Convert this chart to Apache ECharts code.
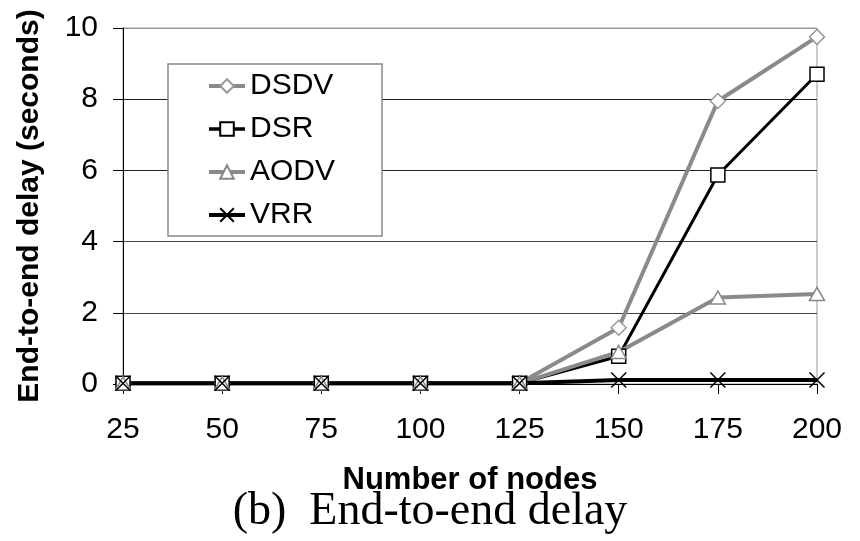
<!DOCTYPE html>
<html>
<head>
<meta charset="utf-8">
<script src="https://cdn.jsdelivr.net/npm/echarts@6/dist/echarts.min.js"></script>
<style>
  html, body { margin: 0; padding: 0; background: #fff; }
  #chartLineBox { width: 860px; height: 541px; }
</style>
</head>
<body>
<div id="chartLineBox"></div>
<script>
  // data
  var nodes = ['25', '50', '75', '100', '125', '150', '175', '200'];
  var dsdv = [0.02, 0.02, 0.02, 0.02, 0.02, 1.58, 7.95, 9.75];
  var dsr  = [0.02, 0.02, 0.02, 0.02, 0.02, 0.78, 5.87, 8.7];
  var aodv = [0.02, 0.02, 0.02, 0.02, 0.02, 0.9, 2.43, 2.53];
  var vrr  = [0.02, 0.02, 0.02, 0.02, 0.02, 0.11, 0.11, 0.11];
  var yTicks = [0, 2, 4, 6, 8, 10];

  var grayLine = '#8a8a8a';
  var font = 'Liberation Sans, Arial, sans-serif';

  var chartLine = echarts.init(document.getElementById('chartLineBox'));

  var option = {
    animation: false,
    backgroundColor: '#fff',
    title: {
      text: '(b)  End-to-end delay',
      left: 'center',
      top: 484,
      textStyle: {
        fontFamily: 'Liberation Serif, Times New Roman, serif',
        fontSize: 46,
        fontWeight: 'normal',
        color: '#000'
      }
    },
    legend: {
      orient: 'vertical',
      left: 168,
      top: 64,
      padding: [7, 47, 6, 39],
      itemWidth: 36,
      itemHeight: 17,
      itemGap: 13,
      backgroundColor: '#fff',
      borderColor: '#888',
      borderWidth: 1.5,
      textStyle: { fontFamily: font, fontSize: 30, lineHeight: 30, color: '#000' },
      data: [
        { name: 'DSDV', lineStyle: { width: 4, color: grayLine } },
        { name: 'DSR', lineStyle: { width: 3.5, color: '#000' } },
        { name: 'AODV', lineStyle: { width: 4, color: grayLine } },
        { name: 'VRR', lineStyle: { width: 4, color: '#000' } }
      ]
    },
    grid: { left: 123, right: 43, top: 28, bottom: 157, show: true, borderColor: '#999', borderWidth: 1 },
    xAxis: {
      type: 'category',
      data: nodes,
      boundaryGap: false,
      name: 'Number of nodes',
      nameLocation: 'middle',
      nameGap: 81,
      nameTextStyle: { fontFamily: font, fontSize: 31, fontWeight: 'bold', color: '#000' },
      axisLine: { lineStyle: { color: '#000', width: 1 } },
      axisTick: { show: true, length: 10, alignWithLabel: true, lineStyle: { color: '#000' } },
      axisLabel: { fontFamily: font, fontSize: 30, color: '#000', margin: 31 },
      splitLine: { show: false }
    },
    yAxis: {
      type: 'value',
      min: yTicks[0],
      max: yTicks[yTicks.length - 1],
      interval: 2,
      name: 'End-to-end delay (seconds)',
      nameLocation: 'middle',
      nameGap: 78,
      nameTextStyle: { fontFamily: font, fontSize: 30, fontWeight: 'bold', color: '#000' },
      axisLine: { show: true, lineStyle: { color: '#000', width: 1 } },
      axisTick: { show: true, length: 10, lineStyle: { color: '#000' } },
      axisLabel: { fontFamily: font, fontSize: 30, color: '#000', margin: 25 },
      splitLine: { show: true, lineStyle: { color: ['#333', '#444', '#444', '#222', '#222', '#999'], width: 1 } }
    },
    series: [
      {
        name: 'DSDV',
        type: 'line',
        data: dsdv,
        symbol: 'diamond',
        symbolSize: 15,
        lineStyle: { color: grayLine, width: 4 },
        itemStyle: { color: '#fff', borderColor: '#999', borderWidth: 1.5 },
        emphasis: { disabled: true }
      },
      {
        name: 'DSR',
        type: 'line',
        data: dsr,
        symbol: 'rect',
        symbolSize: 14,
        lineStyle: { color: '#000', width: 3 },
        itemStyle: { color: '#fff', borderColor: '#000', borderWidth: 1.5 },
        emphasis: { disabled: true }
      },
      {
        name: 'AODV',
        type: 'line',
        data: aodv,
        symbol: 'triangle',
        symbolSize: [15, 13],
        lineStyle: { color: grayLine, width: 4 },
        itemStyle: { color: '#fff', borderColor: '#888', borderWidth: 1.5 },
        emphasis: { disabled: true }
      },
      {
        name: 'VRR',
        type: 'line',
        data: vrr,
        symbol: 'path://M0,0L10,10M10,0L0,10',
        symbolSize: 15,
        lineStyle: { color: '#000', width: 4 },
        itemStyle: { color: '#000', borderColor: '#000', borderWidth: 1.5 },
        emphasis: { disabled: true }
      }
    ]
  };

  chartLine.setOption(option);
</script>
</body>
</html>
